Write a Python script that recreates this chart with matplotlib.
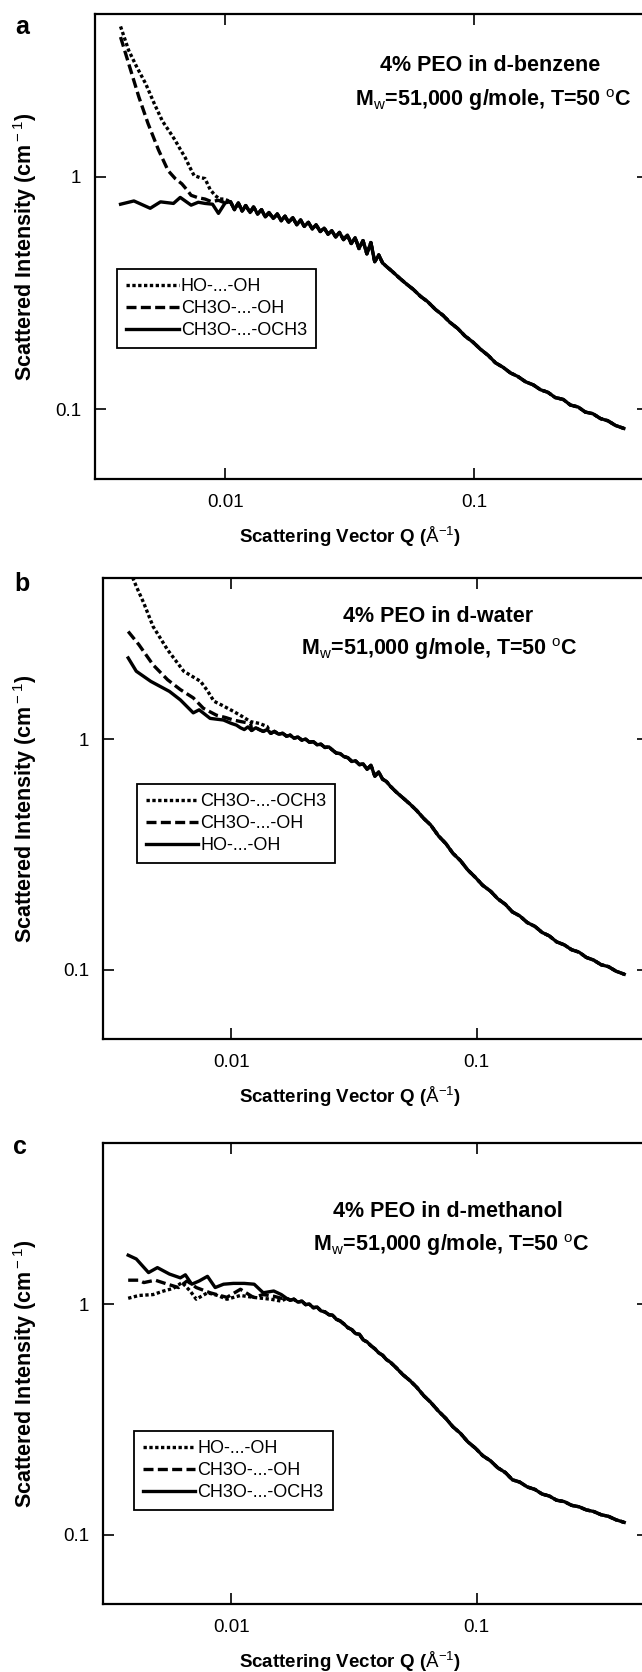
import numpy as np
import matplotlib
matplotlib.use("Agg")
import matplotlib.pyplot as plt
from matplotlib.ticker import FixedLocator, FixedFormatter, NullLocator

plt.rcParams["font.family"] = ["Liberation Sans", "DejaVu Sans"]
plt.rcParams["mathtext.fontset"] = "custom"
plt.rcParams["mathtext.rm"] = "Liberation Sans"
plt.rcParams["mathtext.bf"] = "Liberation Sans:bold"
plt.rcParams["mathtext.default"] = "regular"

W, H = 642, 1672

# ---- data (Q in 1/A, I in 1/cm) ----
# common high-Q part, panels a and b
q_tail = [0.0105, 0.0109, 0.0113, 0.0117, 0.0121, 0.0126, 0.0130, 0.0135, 0.0140, 0.0145,
          0.0150, 0.0156, 0.0162, 0.0168, 0.0174, 0.0180, 0.0187, 0.0194, 0.0201, 0.0208,
          0.0216, 0.0224, 0.0232, 0.0241, 0.0250, 0.0259, 0.0268, 0.0278, 0.0288, 0.0299,
          0.0310, 0.0321, 0.0333, 0.0345, 0.0358, 0.0371, 0.0385, 0.0399, 0.0414, 0.0429,
          0.0445, 0.0470, 0.0500, 0.0535, 0.0570, 0.0610, 0.0650, 0.0700, 0.0750, 0.0800,
          0.0860, 0.0920, 0.0990, 0.106, 0.114, 0.122, 0.131, 0.140, 0.150, 0.161,
          0.173, 0.185, 0.198, 0.212, 0.228, 0.244, 0.262, 0.280, 0.300, 0.322,
          0.345, 0.370, 0.400]

# panel a: d-benzene
ia_tail = [0.78, 0.72, 0.77, 0.71, 0.75, 0.70, 0.74, 0.69, 0.72, 0.67,
           0.70, 0.66, 0.69, 0.645, 0.675, 0.635, 0.665, 0.62, 0.65, 0.61,
           0.635, 0.595, 0.62, 0.58, 0.60, 0.565, 0.585, 0.55, 0.575, 0.535,
           0.56, 0.515, 0.545, 0.49, 0.53, 0.465, 0.52, 0.43, 0.46, 0.425,
           0.41, 0.39, 0.367, 0.345, 0.327, 0.305, 0.290, 0.268, 0.253, 0.236,
           0.222, 0.206, 0.194, 0.181, 0.170, 0.158, 0.151, 0.143, 0.138, 0.131,
           0.127, 0.121, 0.118, 0.112, 0.110, 0.104, 0.102, 0.097, 0.0955, 0.091,
           0.0890, 0.0850, 0.0825]
qa_dot = [0.0038, 0.0041, 0.0044, 0.0048, 0.0052, 0.0056, 0.0060, 0.0063, 0.0066, 0.0069,
          0.0072, 0.0075, 0.0079, 0.0083, 0.0087, 0.0091, 0.0095, 0.0099, 0.0102]
ia_dot = [4.42, 3.48, 2.98, 2.50, 2.05, 1.73, 1.55, 1.43, 1.31, 1.21,
          1.10, 1.01, 0.99, 0.98, 0.88, 0.83, 0.80, 0.80, 0.79]
qa_dash = [0.0038, 0.0041, 0.0045, 0.0049, 0.0054, 0.0059, 0.0063, 0.0067, 0.0070, 0.0073,
           0.0078, 0.0083, 0.0088, 0.0094, 0.0100]
ia_dash = [3.98, 3.05, 2.20, 1.69, 1.30, 1.06, 0.98, 0.93, 0.88, 0.83,
           0.81, 0.80, 0.78, 0.79, 0.77]
qa_solid = [0.0038, 0.0043, 0.0050, 0.0055, 0.0062, 0.0066, 0.0073, 0.0078, 0.0083, 0.0089,
            0.0094, 0.0100]
ia_solid = [0.76, 0.785, 0.73, 0.778, 0.766, 0.813, 0.753, 0.775, 0.766, 0.76,
            0.694, 0.77]

# panel b: d-water
ib_tail = [1.15, 1.12, 1.10, 1.13, 1.09, 1.12, 1.10, 1.08, 1.10, 1.06,
           1.08, 1.05, 1.06, 1.03, 1.04, 1.01, 1.02, 0.99, 1.00, 0.97,
           0.975, 0.945, 0.95, 0.92, 0.925, 0.895, 0.87, 0.865, 0.84, 0.83,
           0.80, 0.805, 0.775, 0.78, 0.74, 0.77, 0.69, 0.72, 0.67, 0.655,
           0.625, 0.59, 0.557, 0.523, 0.49, 0.452, 0.424, 0.38, 0.352, 0.320,
           0.297, 0.271, 0.251, 0.232, 0.219, 0.203, 0.192, 0.178, 0.171, 0.160,
           0.154, 0.145, 0.140, 0.132, 0.128, 0.122, 0.119, 0.113, 0.110, 0.105,
           0.103, 0.0985, 0.0955]
qb_dot = [0.0038, 0.0041, 0.0044, 0.0048, 0.0055, 0.0064, 0.0070, 0.0075, 0.0080, 0.0085,
          0.0092, 0.0102, 0.0110, 0.0120, 0.0130, 0.0140]
ib_dot = [5.6, 4.6, 3.89, 3.08, 2.44, 1.97, 1.86, 1.78, 1.62, 1.46,
          1.40, 1.32, 1.26, 1.19, 1.17, 1.135]
qb_dash = [0.0038, 0.0042, 0.0048, 0.0055, 0.0062, 0.0070, 0.0077, 0.0087, 0.0095, 0.0102,
           0.0110, 0.0120]
ib_dash = [2.93, 2.57, 2.10, 1.81, 1.64, 1.51, 1.36, 1.27, 1.24, 1.21,
           1.19, 1.17]
qb_solid = [0.0038, 0.0041, 0.0047, 0.0056, 0.0062, 0.0070, 0.0074, 0.0082, 0.0093, 0.0100]
ib_solid = [2.25, 1.97, 1.78, 1.61, 1.48, 1.30, 1.34, 1.23, 1.21, 1.17]

# panel c: d-methanol
qc_tail = [0.0168, 0.0174, 0.0180, 0.0187, 0.0194, 0.0201, 0.0208, 0.0216, 0.0224, 0.0232,
           0.0241, 0.0250, 0.0259, 0.0268, 0.0278, 0.0288, 0.0299, 0.0310, 0.0321, 0.0333,
           0.0345, 0.0358, 0.0371, 0.0385, 0.0399, 0.0414, 0.0429, 0.0445, 0.0470, 0.0500,
           0.0535, 0.0570, 0.0610, 0.0650, 0.0700, 0.0750, 0.0800, 0.0860, 0.0920, 0.0990,
           0.106, 0.114, 0.122, 0.131, 0.140, 0.150, 0.161, 0.173, 0.185, 0.198,
           0.212, 0.228, 0.244, 0.262, 0.280, 0.300, 0.322, 0.345, 0.370, 0.400]
ic_tail = [1.06, 1.04, 1.05, 1.02, 1.03, 0.995, 1.00, 0.965, 0.97, 0.935,
           0.925, 0.90, 0.895, 0.86, 0.845, 0.82, 0.79, 0.775, 0.745, 0.74,
           0.70, 0.685, 0.66, 0.64, 0.615, 0.60, 0.575, 0.56, 0.53, 0.495,
           0.466, 0.436, 0.40, 0.375, 0.343, 0.319, 0.294, 0.275, 0.253, 0.237,
           0.220, 0.209, 0.195, 0.186, 0.173, 0.169, 0.161, 0.157, 0.150, 0.147,
           0.141, 0.139, 0.134, 0.132, 0.128, 0.126, 0.122, 0.120, 0.116, 0.113]
qc_dot = [0.0038, 0.0042, 0.0048, 0.0053, 0.0058, 0.0063, 0.0068, 0.0072, 0.0080, 0.0088,
          0.0096, 0.0109, 0.0123, 0.0145, 0.0160]
ic_dot = [1.06, 1.09, 1.10, 1.14, 1.17, 1.24, 1.14, 1.05, 1.12, 1.09,
          1.05, 1.09, 1.07, 1.05, 1.03]
qc_dash = [0.0038, 0.0042, 0.0044, 0.0049, 0.0055, 0.0061, 0.0066, 0.0072, 0.0082, 0.0096,
           0.0109, 0.0123, 0.0135, 0.0150, 0.0160]
ic_dash = [1.27, 1.27, 1.24, 1.27, 1.22, 1.18, 1.26, 1.18, 1.12, 1.07,
           1.16, 1.07, 1.10, 1.08, 1.06]
qc_solid = [0.0038, 0.0041, 0.0046, 0.0050, 0.0056, 0.0062, 0.0065, 0.0069, 0.0074, 0.0080,
            0.0086, 0.0093, 0.0102, 0.0113, 0.0124, 0.0135, 0.0149, 0.0160]
ic_solid = [1.63, 1.57, 1.37, 1.44, 1.35, 1.30, 1.34, 1.22, 1.26, 1.32,
            1.18, 1.22, 1.23, 1.23, 1.22, 1.12, 1.14, 1.10]

LBL_HO = "HO-...-OH"
LBL_MO = "CH3O-...-OH"
LBL_MM = "CH3O-...-OCH3"

DOT = (0, (1.0, 0.75))
DASH = (0, (3.0, 1.3))
SOLID = "-"

MW_TXT = r"M$_{\rm w}$=51,000 g/mole, T=50 $^{\rm o}$C"


def join(q_low, i_low, q_hi, i_hi):
    q_hi = np.asarray(q_hi)
    i_hi = np.asarray(i_hi)
    keep = q_hi > q_low[-1]
    return np.concatenate([q_low, q_hi[keep]]), np.concatenate([i_low, i_hi[keep]])


# pixel boxes: left, right, top, bottom
panels = [
    dict(letter="a", box=(95, 648, 14, 479), letter_xy=(22, 27),
         title="4% PEO in d-benzene", t1=(490, 71), t2=(493, 106),
         leg_anchor=(0.040, 0.452),
         series=[(qa_dot, ia_dot, q_tail, ia_tail, DOT, LBL_HO),
                 (qa_dash, ia_dash, q_tail, ia_tail, DASH, LBL_MO),
                 (qa_solid, ia_solid, q_tail, ia_tail, SOLID, LBL_MM)]),
    dict(letter="b", box=(103, 648, 578, 1039), letter_xy=(22, 584),
         title="4% PEO in d-water", t1=(438, 622), t2=(439, 655),
         leg_anchor=(0.062, 0.553),
         series=[(qb_dot, ib_dot, q_tail, ib_tail, DOT, LBL_MM),
                 (qb_dash, ib_dash, q_tail, ib_tail, DASH, LBL_MO),
                 (qb_solid, ib_solid, q_tail, ib_tail, SOLID, LBL_HO)]),
    dict(letter="c", box=(103, 648, 1143, 1604), letter_xy=(20, 1147),
         title="4% PEO in d-methanol", t1=(448, 1217), t2=(451, 1251),
         leg_anchor=(0.057, 0.375),
         series=[(qc_dot, ic_dot, qc_tail, ic_tail, DOT, LBL_HO),
                 (qc_dash, ic_dash, qc_tail, ic_tail, DASH, LBL_MO),
                 (qc_solid, ic_solid, qc_tail, ic_tail, SOLID, LBL_MM)]),
]

fig = plt.figure(figsize=(W / 100, H / 100), dpi=100, facecolor="white")

for p in panels:
    l, r, t, b = p["box"]
    ax = fig.add_axes([l / W, 1 - b / H, (r - l) / W, (b - t) / H])
    for q_low, i_low, q_hi, i_hi, ls, lab in p["series"]:
        q, i = join(q_low, i_low, q_hi, i_hi)
        ax.plot(q, i, color="black", lw=2.4, ls=ls, label=lab,
                solid_joinstyle="round", dash_capstyle="butt")
    ax.set_xscale("log")
    ax.set_yscale("log")
    ax.set_xlim(0.003, 0.5)
    ax.set_ylim(0.05, 5)
    ax.xaxis.set_major_locator(FixedLocator([0.01, 0.1]))
    ax.xaxis.set_major_formatter(FixedFormatter(["0.01", "0.1"]))
    ax.yaxis.set_major_locator(FixedLocator([0.1, 1]))
    ax.yaxis.set_major_formatter(FixedFormatter(["0.1", "1"]))
    ax.xaxis.set_minor_locator(NullLocator())
    ax.yaxis.set_minor_locator(NullLocator())
    ax.tick_params(direction="in", top=True, right=True, length=8, width=1.2,
                   labelsize=13.5)
    ax.tick_params(axis="x", pad=11)
    ax.tick_params(axis="y", pad=10)
    for s in ax.spines.values():
        s.set_linewidth(1.6)

    leg = ax.legend(loc="upper left", bbox_to_anchor=p["leg_anchor"], fontsize=13,
                    frameon=True, fancybox=False, framealpha=1, edgecolor="black",
                    handlelength=2.9, handletextpad=0.12, labelspacing=0.28,
                    borderpad=0.5, borderaxespad=0)
    leg.get_frame().set_linewidth(1.3)

    fig.text(p["t1"][0] / W, 1 - p["t1"][1] / H, p["title"], ha="center",
             va="baseline", fontsize=15.5, fontweight="bold")
    fig.text(p["t2"][0] / W, 1 - p["t2"][1] / H, MW_TXT, ha="center",
             va="baseline", fontsize=15.5, fontweight="bold")
    fig.text(p["letter_xy"][0] / W, 1 - p["letter_xy"][1] / H, p["letter"],
             ha="center", va="center", fontsize=18, fontweight="bold")

    fig.text(25 / W, 1 - (t + b) / 2 / H, r"Scattered Intensity (cm$^{\rm -1}$)",
             rotation=90, ha="center", va="center", fontsize=15.5, fontweight="bold")
    fig.text(350 / W, 1 - (b + 58) / H,
             r"Scattering Vector Q ($\rm\AA^{-1}$)",
             ha="center", va="center", fontsize=13.5, fontweight="bold")

fig.savefig("out.png", dpi=100, facecolor="white")
